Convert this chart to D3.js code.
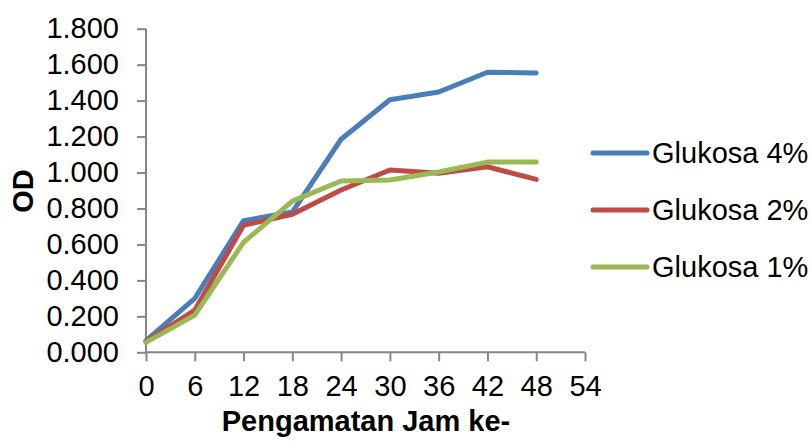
<!DOCTYPE html>
<html><head><meta charset="utf-8">
<script src="https://cdn.jsdelivr.net/npm/d3@7"></script>
<style>body{margin:0;background:#fff}svg{display:block}text{font-family:"Liberation Sans",Arial,sans-serif;fill:#000}</style>
</head><body>
<svg id="c" width="811" height="442"></svg>
<script>
const hours = [0, 6, 12, 18, 24, 30, 36, 42, 48];
const glukosa4 = [0.065, 0.300, 0.732, 0.780, 1.185, 1.405, 1.448, 1.558, 1.554];
const glukosa2 = [0.060, 0.235, 0.706, 0.768, 0.903, 1.014, 0.996, 1.032, 0.962];
const glukosa1 = [0.055, 0.207, 0.612, 0.841, 0.953, 0.958, 1.003, 1.058, 1.058];
const seriesNames = ["Glukosa 4%", "Glukosa 2%", "Glukosa 1%"];
const seriesColors = ["#4a7ebb", "#be4b48", "#98b954"];
const xTicks = [0, 6, 12, 18, 24, 30, 36, 42, 48, 54];
const yTicks = [0, 0.2, 0.4, 0.6, 0.8, 1.0, 1.2, 1.4, 1.6, 1.8];

const svg = d3.select("#c");
const x = d3.scaleLinear().domain([0, 54]).range([146, 585]);
const y = d3.scaleLinear().domain([0, 1.8]).range([352.3, 28.7]);
const axisColor = "#868686";
const fs = 29;

const yAxis = svg.append("g").attr("transform", "translate(146,0)")
  .call(d3.axisLeft(y).tickValues(yTicks).tickSize(9).tickPadding(18).tickFormat(d3.format(".3f")));
const xAxis = svg.append("g").attr("transform", "translate(0,352.3)")
  .call(d3.axisBottom(x).tickValues(xTicks).tickSize(9).tickPadding(14).tickFormat(d3.format("d")));
[yAxis, xAxis].forEach(g => {
  g.selectAll("path.domain").attr("stroke", axisColor).attr("stroke-width", 2);
  g.selectAll(".tick line").attr("stroke", axisColor).attr("stroke-width", 2);
  g.selectAll(".tick text").style("font-size", fs + "px").attr("fill", "#000");
});
yAxis.select("path.domain").attr("d", `M0,${y(1.8)}V${y(0)}`);
xAxis.select("path.domain").attr("d", `M${x(0)},0H${x(54)}`);

const data = [glukosa4, glukosa2, glukosa1];
const line = d3.line().x((d, i) => x(hours[i])).y(d => y(d));
data.forEach((vals, k) => {
  svg.append("path").datum(vals).attr("d", line)
    .attr("fill", "none").attr("stroke", seriesColors[k]).attr("stroke-width", 5)
    .attr("stroke-linejoin", "round").attr("stroke-linecap", "round");
});

svg.append("text").attr("transform", "translate(33,191) rotate(-90)")
  .attr("text-anchor", "middle").style("font-size", fs + "px").style("font-weight", "bold").text("OD");
svg.append("text").attr("x", 366).attr("y", 431)
  .attr("text-anchor", "middle").style("font-size", fs + "px").style("font-weight", "bold").text("Pengamatan Jam ke-");

const legY = [153, 210, 267];
seriesNames.forEach((n, k) => {
  svg.append("line").attr("x1", 593).attr("x2", 647).attr("y1", legY[k]).attr("y2", legY[k])
    .attr("stroke", seriesColors[k]).attr("stroke-width", 5).attr("stroke-linecap", "round");
  svg.append("text").attr("x", 652).attr("y", legY[k]).attr("dy", "0.35em")
    .style("font-size", fs + "px").text(n);
});
</script>
</body></html>
